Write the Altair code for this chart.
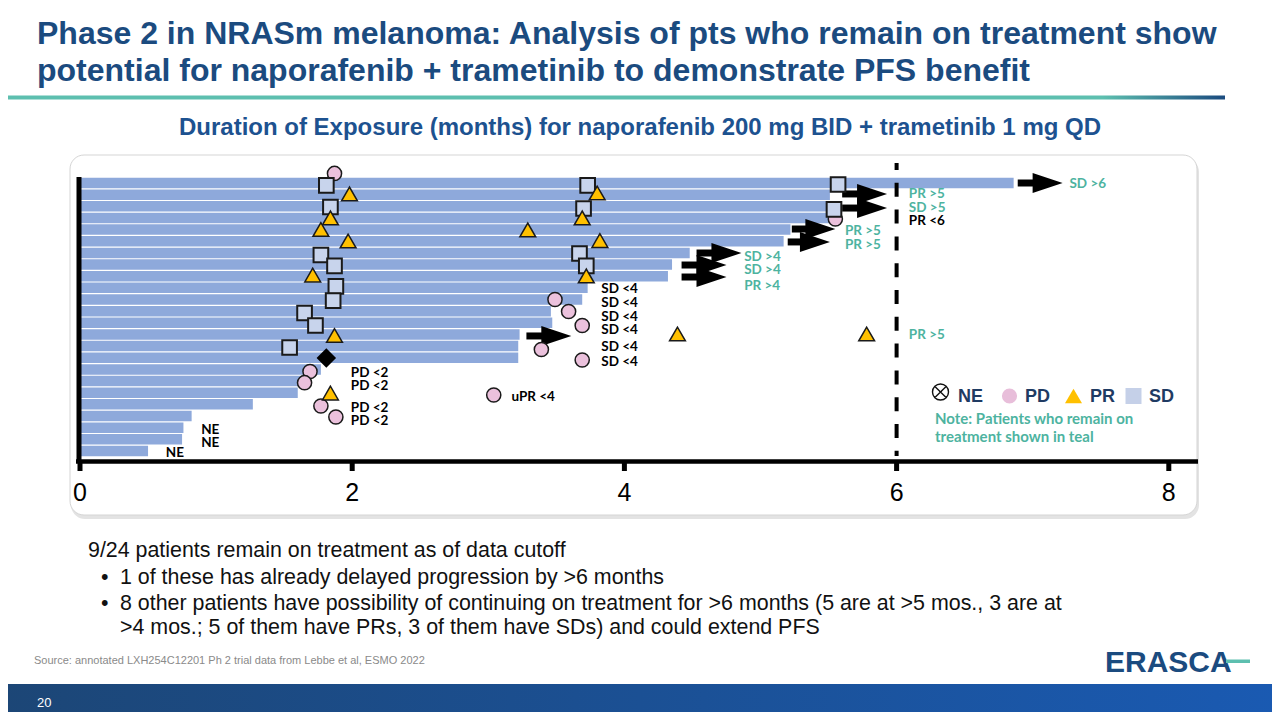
import altair as alt
import pandas as pd

# ---------------- data (months on x, patient row on y; row 1 = top) ----------------
rows = list(range(1, 25))
bar_end = [6.86, 5.51, 5.51, 5.51, 5.22, 5.17, 4.48, 4.35, 4.32, 3.73, 3.69, 3.46,
           3.47, 3.23, 3.22, 3.22, 1.77, 1.63, 1.60, 1.27, 0.82, 0.76, 0.75, 0.50]

pd_x = [1.87, 3.49, 3.59, 3.69, 3.39, 3.69, 5.55, 1.69, 1.65, 1.77, 1.88, 3.04]
pd_row = [0.18, 11.0, 12.03, 13.23, 15.29, 16.19, 4.09, 17.18, 18.14, 20.14, 21.09, 19.2]

sd_x = [1.81, 1.84, 1.77, 1.87, 1.88, 1.86, 1.65, 1.73, 1.54, 3.73, 3.70, 3.67, 3.72, 5.57, 5.54]
sd_row = [1.21, 3.06, 7.18, 8.12, 9.88, 11.09, 12.16, 13.23, 15.12, 1.21, 3.19, 7.05, 8.12, 1.13, 3.27]

pr_x = [1.98, 1.84, 1.77, 1.97, 1.71, 1.87, 1.84, 3.80, 3.69, 3.29, 3.82, 3.72, 4.39, 5.78]
pr_row = [1.94, 4.00, 4.99, 5.98, 8.90, 14.09, 19.03, 1.86, 4.00, 5.03, 5.94, 8.98, 13.96, 13.96]

dia_x = [1.81]
dia_row = [16.02]

arrow_start = [6.89, 5.60, 5.60, 5.23, 5.20, 4.53, 4.42, 4.42, 3.28]
arrow_end = [7.22, 5.93, 5.93, 5.55, 5.51, 4.86, 4.75, 4.75, 3.61]
arrow_row = [1.00, 1.94, 3.15, 4.95, 6.06, 7.01, 8.04, 9.07, 14.13]

label_text = ["SD >6", "PR >5", "SD >5", "PR <6", "PR >5", "PR >5", "SD >4", "SD >4", "PR >4",
              "SD <4", "SD <4", "SD <4", "SD <4", "SD <4", "SD <4", "PR >5", "uPR <4",
              "PD <2", "PD <2", "PD <2", "PD <2", "NE", "NE", "NE"]
label_x = [7.27, 6.09, 6.09, 6.09, 5.62, 5.62, 4.88, 4.88, 4.88,
           3.83, 3.83, 3.83, 3.83, 3.83, 3.83, 6.09, 3.17,
           1.99, 1.99, 1.99, 1.99, 0.89, 0.89, 0.63]
label_row = [1.09, 1.94, 3.15, 4.26, 5.12, 6.32, 7.35, 8.47, 9.84,
             10.12, 11.27, 12.48, 13.62, 15.10, 16.34, 14.05, 19.37,
             17.33, 18.45, 20.31, 21.43, 22.2, 23.35, 24.18]
label_status = ["on", "on", "on", "off", "on", "on", "on", "on", "on",
                "off", "off", "off", "off", "off", "off", "on", "off",
                "off", "off", "off", "off", "off", "off", "off"]

tick_values = [0, 2, 4, 6, 8]
cutoff = [6]

# ---------------- layout / style ----------------
W, H = 1264, 704
PX0, PXU = 72.0, 136.1      # chart px of month 0, px per month
PY1, PYU = 175.0, 11.65     # chart px of row 1 centre, px per row
x_dom = [-PX0 / PXU, (W - PX0) / PXU]
y_dom = [1 - PY1 / PYU, 1 + (H - PY1) / PYU]
XS = alt.Scale(domain=x_dom, nice=False, zero=False)
YS = alt.Scale(domain=y_dom, nice=False, zero=False, reverse=True)

NAVY = "#1B4B7F"
TEAL = "#4DB3A0"
BAR = "#8EA9DB"
ARIAL = "Liberation Sans, Arial, sans-serif"
CAL = "Lato, Open Sans, sans-serif"
EDGE = "#1a1a1a"


def X(f):
    return alt.X(f, type="quantitative", scale=XS, axis=None)


def Y(f):
    return alt.Y(f, type="quantitative", scale=YS, axis=None)


ONE = pd.DataFrame({"k": [0]})


def px(v):
    return alt.value(v - 8)


def txt(s, x, y, size, color="#000000", weight="normal", font=ARIAL, align="left"):
    return alt.Chart(ONE).mark_text(
        text=s, fontSize=size, color=color, fontWeight=weight, font=font,
        align=align, baseline="middle"
    ).encode(x=px(x), y=px(y))


layers = []

# panel with soft shadow
layers.append(alt.Chart(ONE).mark_rect(cornerRadius=14, fill="#e3e3e3").encode(
    x=px(71), x2=px(1199), y=px(158), y2=px(519)))
layers.append(alt.Chart(ONE).mark_rect(cornerRadius=14, fill="white", stroke="#d5d5d5", strokeWidth=1).encode(
    x=px(70), x2=px(1197), y=px(155), y2=px(515)))

# bars
bars_df = pd.DataFrame({"row": rows, "end": bar_end})
bars_df["start"] = 0.0
bars_df["y0"] = bars_df["row"] - 0.45
bars_df["y1"] = bars_df["row"] + 0.45
layers.append(alt.Chart(bars_df).mark_rect(color=BAR).encode(
    x=X("start"), x2="end", y=Y("y0"), y2="y1"))

# cutoff dashed line
layers.append(alt.Chart(pd.DataFrame({"m": cutoff})).mark_rule(
    color="black", strokeWidth=4, strokeDash=[14, 12.8], strokeDashOffset=7).encode(
    x=X("m"), y=px(163), y2=px(456)))

# left bar, axis line, ticks, tick labels
layers.append(alt.Chart(ONE).mark_rule(color="black", strokeWidth=5).encode(
    x=px(79), y=px(177), y2=px(463)))
layers.append(alt.Chart(ONE).mark_rule(color="black", strokeWidth=4.5).encode(
    x=px(76), x2=px(1198), y=px(461.5)))
tdf = pd.DataFrame({"t": tick_values})
layers.append(alt.Chart(tdf).mark_rule(color="black", strokeWidth=5).encode(
    x=X("t"), y=px(461), y2=px(471)))
layers.append(alt.Chart(tdf).mark_text(fontSize=25, font=ARIAL, color="black", baseline="middle").encode(
    x=X("t"), y=px(493), text="t:Q"))

# arrows
adf = pd.DataFrame({"start": arrow_start, "end": arrow_end, "row": arrow_row})
HEAD = 30.0
adf["shaft_end"] = adf["end"] - 0.8 * HEAD / PXU
adf["head_x"] = adf["end"] - 0.5 * HEAD / PXU
layers.append(alt.Chart(adf).mark_rule(color="black", strokeWidth=7).encode(
    x=X("start"), x2="shaft_end", y=Y("row")))
layers.append(alt.Chart(adf).mark_point(
    shape="M-1,-0.67L1,0L-1,0.67Z", size=HEAD * HEAD, filled=True, color="black", opacity=1).encode(
    x=X("head_x"), y=Y("row")))

# markers
pdf = pd.DataFrame({"x": pd_x, "row": pd_row})
layers.append(alt.Chart(pdf).mark_point(
    shape="circle", size=200, filled=True, fill="#EBC1DC", stroke=EDGE, strokeWidth=1.5, opacity=1).encode(
    x=X("x"), y=Y("row")))
sdf = pd.DataFrame({"x": sd_x, "row": sd_row})
layers.append(alt.Chart(sdf).mark_point(
    shape="square", size=215, filled=True, fill="#C8D4EC", stroke=EDGE, strokeWidth=2, opacity=1).encode(
    x=X("x"), y=Y("row")))
prdf = pd.DataFrame({"x": pr_x, "row": pr_row})
layers.append(alt.Chart(prdf).mark_point(
    shape="triangle-up", size=250, filled=True, fill="#FFC000", stroke=EDGE, strokeWidth=1.5, opacity=1).encode(
    x=X("x"), y=Y("row")))
ddf = pd.DataFrame({"x": dia_x, "row": dia_row})
layers.append(alt.Chart(ddf).mark_point(
    shape="diamond", size=380, filled=True, color="black", opacity=1).encode(
    x=X("x"), y=Y("row")))

# response labels
ldf = pd.DataFrame({"text": label_text, "x": label_x, "row": label_row, "status": label_status})
layers.append(alt.Chart(ldf).mark_text(
    font=CAL, fontSize=13.5, fontWeight="bold", align="left", baseline="middle").encode(
    x=X("x"), y=Y("row"), text="text:N",
    color=alt.Color("status:N", scale=alt.Scale(domain=["on", "off"], range=[TEAL, "#000000"]), legend=None)))

# legend
layers.append(alt.Chart(ONE).mark_point(
    shape="M-1,0A1,1,0,1,1,1,0A1,1,0,1,1,-1,0ZM-0.7,-0.7L0.7,0.7M-0.7,0.7L0.7,-0.7",
    size=256, filled=False, stroke="#111111", strokeWidth=1.4, opacity=1).encode(x=px(940.5), y=px(392)))
layers.append(alt.Chart(ONE).mark_point(shape="circle", size=230, filled=True, color="#E8BEDA", opacity=1).encode(
    x=px(1009.5), y=px(396)))
layers.append(alt.Chart(ONE).mark_point(shape="triangle-up", size=290, filled=True, color="#FFC000", opacity=1).encode(
    x=px(1073.5), y=px(396)))
layers.append(alt.Chart(ONE).mark_point(shape="square", size=256, filled=True, color="#C5D0E8", opacity=1).encode(
    x=px(1133.5), y=px(396)))
LEGC = "#1F3B63"
for s, x in [("NE", 958), ("PD", 1025), ("PR", 1090), ("SD", 1149)]:
    layers.append(txt(s, x, 397, 18, LEGC, "bold"))
layers.append(txt("Note: Patients who remain on", 935, 418.5, 15, TEAL, "bold", CAL))
layers.append(txt("treatment shown in teal", 935, 437, 15, TEAL, "bold", CAL))

# slide title, rule, subtitle
layers.append(txt("Phase 2 in NRASm melanoma: Analysis of pts who remain on treatment show", 37, 34, 32, NAVY, "bold"))
layers.append(txt("potential for naporafenib + trametinib to demonstrate PFS benefit", 37, 71, 32, NAVY, "bold"))
layers.append(alt.Chart(ONE).mark_rect(fill=alt.LinearGradient(
    gradient="linear", x1=0, x2=1, y1=0, y2=0,
    stops=[alt.GradientStop(color="#5DBFAF", offset=0), alt.GradientStop(color="#5DBFAF", offset=0.9),
           alt.GradientStop(color=NAVY, offset=1)])).encode(
    x=px(0), x2=px(1225), y=px(95.5), y2=px(99.5)))
layers.append(txt("Duration of Exposure (months) for naporafenib 200 mg BID + trametinib 1 mg QD",
                  640, 128, 24, "#1D5290", "bold", ARIAL, "center"))

# bullet text
BODY = 21.4
layers.append(txt("9/24 patients remain on treatment as of data cutoff", 88, 551, BODY, "#111111"))
layers.append(txt("•", 101, 578, BODY, "#111111"))
layers.append(txt("1 of these has already delayed progression by >6 months", 120, 578, BODY, "#111111"))
layers.append(txt("•", 101, 604, BODY, "#111111"))
layers.append(txt("8 other patients have possibility of continuing on treatment for >6 months (5 are at >5 mos., 3 are at",
                  120, 604, BODY, "#111111"))
layers.append(txt(">4 mos.; 5 of them have PRs, 3 of them have SDs) and could extend PFS", 120, 628, BODY, "#111111"))
layers.append(txt("Source: annotated LXH254C12201 Ph 2 trial data from Lebbe et al, ESMO 2022", 34, 661, 11, "#8a8a8a"))

# footer band, page number, logo
layers.append(alt.Chart(ONE).mark_rect(fill=alt.LinearGradient(
    gradient="linear", x1=0, x2=1, y1=0, y2=0,
    stops=[alt.GradientStop(color="#1C4676", offset=0), alt.GradientStop(color="#1A5AB2", offset=1)])).encode(
    x=px(0), x2=px(1280), y=px(684), y2=px(720)))
layers.append(txt("20", 37, 703, 13, "white"))
layers.append(txt("ERASCA", 1105, 663, 30, NAVY, "bold"))
layers.append(alt.Chart(ONE).mark_rect(fill="#5DBFAF").encode(
    x=px(1226), x2=px(1250), y=px(659.5), y2=px(663)))

chart = alt.layer(*layers).properties(
    width=W, height=H, padding=0, autosize=alt.AutoSizeParams(type="none")
).configure_view(stroke=None)

chart.save("out.html", embed_options={"renderer": "svg", "actions": False})
